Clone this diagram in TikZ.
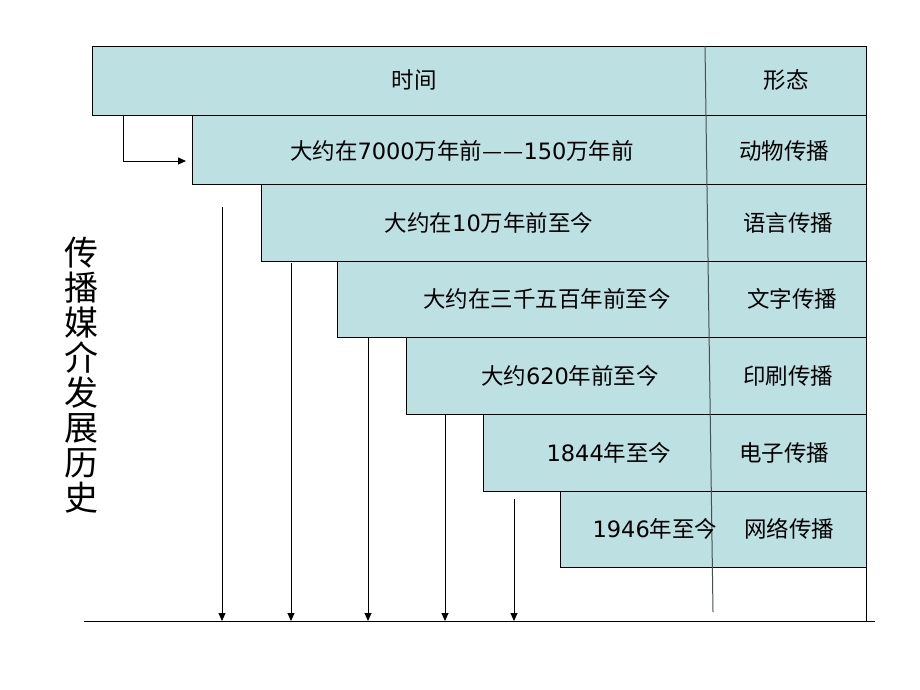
\documentclass[tikz,border=0pt]{standalone}
\usepackage{fontspec}
\newfontfamily\cjk{Noto Sans CJK SC}
\newfontfamily\dv{DejaVu Sans}
\usetikzlibrary{arrows.meta}
\definecolor{boxfill}{RGB}{189,224,227}
\definecolor{divgray}{RGB}{70,80,80}
\tikzset{
  rowbox/.style={draw=black, line width=0.9pt, fill=boxfill, anchor=north west, inner sep=0pt, rectangle},
  lbl/.style={font=\cjk\fontsize{22.5}{26}\selectfont, inner sep=0pt, text=black},
  arr/.style={line width=0.9pt, -{Triangle[length=8pt,width=7pt]}},
  plain/.style={line width=0.9pt}
}
\begin{document}
\begin{tikzpicture}[x=1pt,y=-1pt]
\useasboundingbox[fill=white] (0,0) rectangle (920,690);
% boxes
\node[rowbox, minimum width=774pt, minimum height=69pt] (r0) at (92,46) {};
\node[rowbox, minimum width=674pt, minimum height=69pt] (r1) at (192,115) {};
\node[rowbox, minimum width=605pt, minimum height=77pt] (r2) at (261,184) {};
\node[rowbox, minimum width=529pt, minimum height=76pt] (r3) at (337,261) {};
\node[rowbox, minimum width=460pt, minimum height=77pt] (r4) at (406,337) {};
\node[rowbox, minimum width=383pt, minimum height=77pt] (r5) at (483,414) {};
\node[rowbox, minimum width=306pt, minimum height=76pt] (r6) at (560,491) {};
% divider
\coordinate (dtop) at (705,46);
\coordinate (dbot) at (713,612);
\draw[divgray, line width=1pt] (dtop) -- (dbot);
% right border extension and base line
\coordinate (rb1) at (866,567);
\coordinate (rb2) at (866,621);
\draw[plain] (rb1) -- (rb2);
\coordinate (bl) at (84,621);
\coordinate (br) at (875,621);
\draw[plain] (bl) -- (br);
% labels
\node[lbl] (t0a) at (414,80) {时间};
\node[lbl] (t0b) at (786,80) {形态};
\node[lbl] (t1a) at (462,151) {大约在{\dv 7000}万年前—\kern1pt—{\dv 150}万年前};
\node[lbl] (t1b) at (784,151) {动物传播};
\node[lbl] (t2a) at (489,223) {大约在{\dv 10}万年前至今};
\node[lbl] (t2b) at (788,223) {语言传播};
\node[lbl] (t3a) at (547,299) {大约在三千五百年前至今};
\node[lbl] (t3b) at (792,299) {文字传播};
\node[lbl] (t4a) at (570,376) {大约{\dv 620}年前至今};
\node[lbl] (t4b) at (788,376) {印刷传播};
\node[lbl] (t5a) at (609,453) {{\dv 1844}年至今};
\node[lbl] (t5b) at (784,453) {电子传播};
\node[lbl] (t6a) at (655,529) {{\dv 1946}年至今};
\node[lbl] (t6b) at (789,529) {网络传播};
% title
\node[font=\cjk\fontsize{34}{35}\selectfont, align=center, inner sep=0pt] (title) at (81,375)
  {传\\播\\媒\\介\\发\\展\\历\\史};
% elbow arrow
\coordinate (e0) at (123,115);
\coordinate (e1) at (186,161);
\draw[arr] (e0) |- (e1);
% vertical arrows
\foreach \x/\y [count=\i] in {222/207, 291/263, 368/337, 445/414, 514/499}{
  \coordinate (s\i) at (\x,\y);
  \coordinate (f\i) at (\x,621);
  \draw[arr] (s\i) -- (f\i);
}
\end{tikzpicture}
\end{document}
